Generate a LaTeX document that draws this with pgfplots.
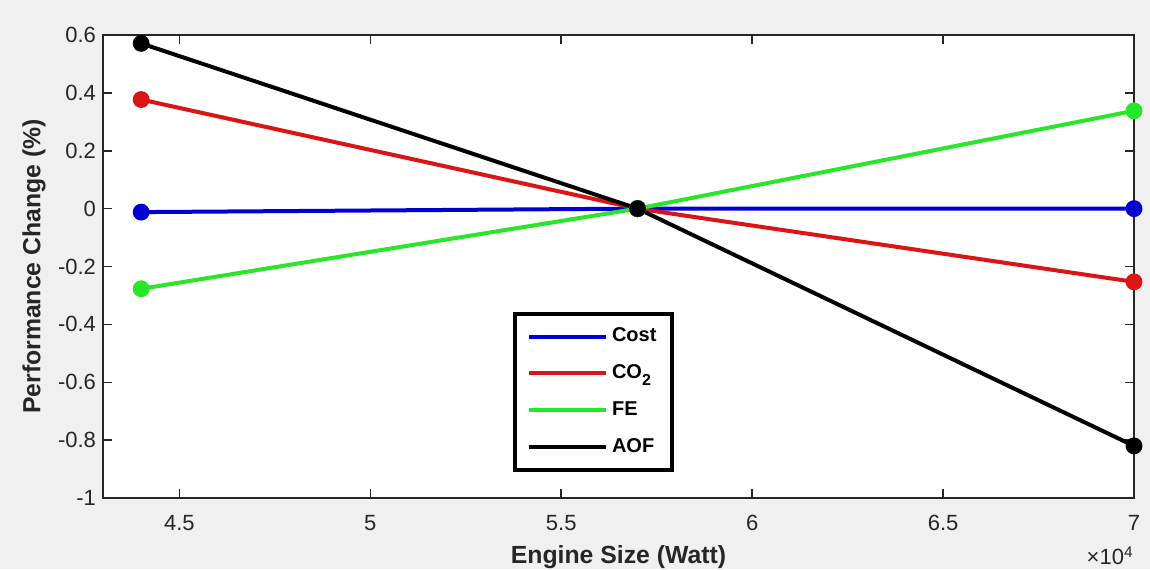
\documentclass[border=0pt]{standalone}
\usepackage{fontspec}
\setmainfont{Liberation Sans}
\usepackage{pgfplots}
\pgfplotsset{compat=1.18}
\definecolor{figbg}{RGB}{240,240,240}
\definecolor{axgray}{RGB}{38,38,38}
\definecolor{mblue}{RGB}{0,0,210}
\definecolor{mred}{RGB}{220,20,20}
\definecolor{mgreen}{RGB}{40,230,40}
\begin{document}
\begin{tikzpicture}
% grey figure background, fixes the page size (1px = 0.5pt)
\path[use as bounding box, fill=figbg] (-51.5pt,-35.5pt) rectangle (523.5pt,249pt);
\begin{axis}[
  at={(0pt,0pt)}, anchor=south west,
  width=515.5pt, height=231.5pt, scale only axis,
  xmin=43000, xmax=70000,
  ymin=-1, ymax=0.6,
  scaled x ticks=false,
  xtick={45000,50000,55000,60000,65000,70000},
  xticklabels={4.5,5,5.5,6,6.5,7},
  ytick={-1,-0.8,-0.6,-0.4,-0.2,0,0.2,0.4,0.6},
  yticklabels={-1,-0.8,-0.6,-0.4,-0.2,0,0.2,0.4,0.6},
  tick label style={font=\fontsize{11}{13}\selectfont, text=axgray},
  xticklabel style={yshift=-5pt},
  tick align=inside,
  major tick length=4.5pt,
  axis line style={axgray, line width=0.75pt},
  tick style={axgray, line width=0.75pt},
  axis background/.style={fill=white},
  clip=false,
  xlabel={Engine Size (Watt)},
  ylabel={Performance Change (\%)},
  every axis x label/.style={at={(axis description cs:0.5,-0.1425)}, anchor=base,
    font=\bfseries\fontsize{12.4}{14}\selectfont, text=axgray},
  every axis y label/.style={at={(axis description cs:-0.0669,0.5)}, rotate=90, anchor=center,
    font=\bfseries\fontsize{12.4}{14}\selectfont, text=axgray},
  legend style={at={(rel axis cs:0.3977,0.4017)}, anchor=north west,
    draw=black, line width=2pt, fill=white,
    font=\bfseries\fontsize{10}{12}\selectfont,
    inner xsep=6pt, inner ysep=5pt, row sep=6pt},
  legend cell align=left,
  legend image code/.code={\draw[#1, mark=none] (0pt,0pt) -- (38.5pt,0pt);},
]
\addplot[mblue, line width=2pt, mark=*, mark size=3.2pt] coordinates {
  (44000,-0.012) (57000,0) (70000,0)
};
\addlegendentry{Cost}
\addplot[mred, line width=2pt, mark=*, mark size=3.2pt] coordinates {
  (44000,0.377) (57000,0) (70000,-0.253)
};
\addlegendentry{CO\raisebox{-0.6ex}{\fontsize{8}{9}\selectfont 2}}
\addplot[mgreen, line width=2pt, mark=*, mark size=3.2pt] coordinates {
  (44000,-0.277) (57000,0) (70000,0.338)
};
\addlegendentry{FE}
\addplot[black, line width=2pt, mark=*, mark size=3.2pt] coordinates {
  (44000,0.571) (57000,0) (70000,-0.82)
};
\addlegendentry{AOF}
% scale factor of the x axis
\node[anchor=north east, inner sep=0pt, yshift=-24pt, text=axgray,
  font=\fontsize{11}{13}\selectfont] at (rel axis cs:1,0) {×10\textsuperscript{4}};
\end{axis}
\end{tikzpicture}
\end{document}
